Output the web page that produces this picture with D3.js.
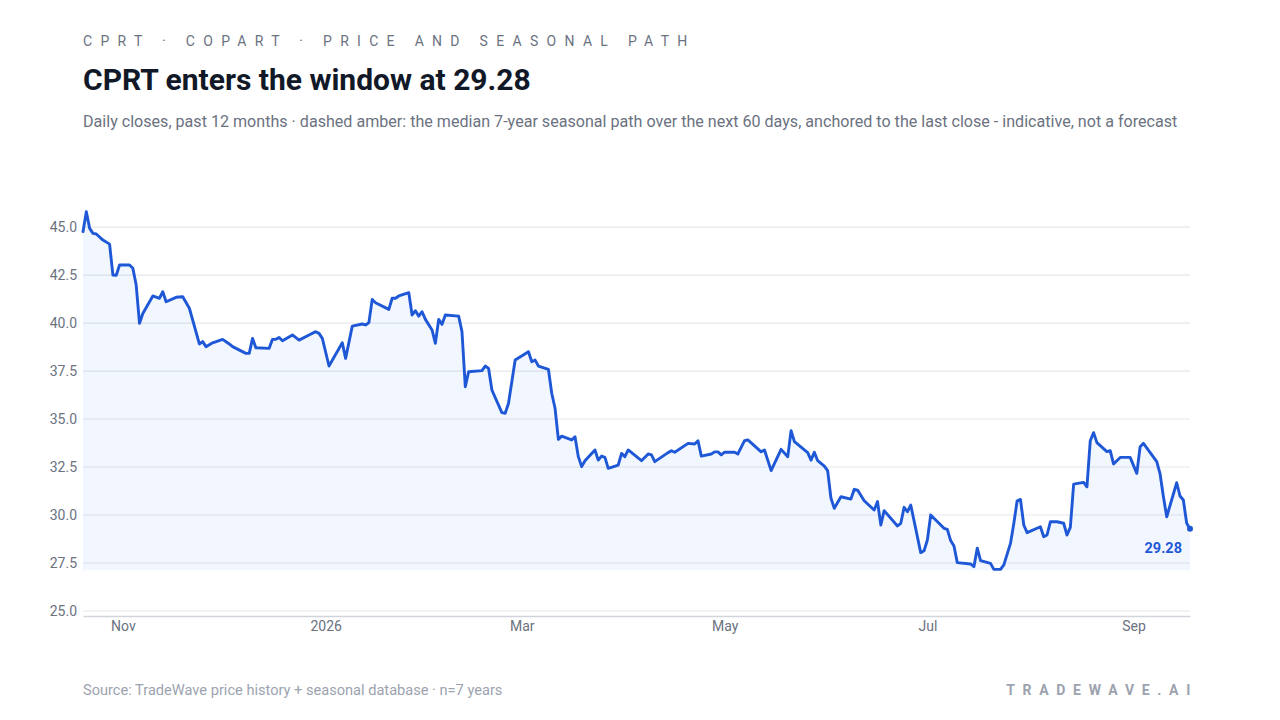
<!DOCTYPE html>
<html>
<head>
<meta charset="utf-8">
<script src="https://cdn.jsdelivr.net/npm/d3@7"></script>
<style>
  html, body { margin: 0; padding: 0; background: #fff; }
  svg { display: block; font-family: Roboto, "Noto Sans", sans-serif; }
</style>
</head>
<body>
<svg id="chart"></svg>
<script>
// daily closes (vertices of the price path)
const closeDates = [
  '2025-10-20','2025-10-21','2025-10-22','2025-10-23','2025-10-24','2025-10-26','2025-10-28','2025-10-29','2025-10-30','2025-10-31',
  '2025-11-03','2025-11-04','2025-11-05','2025-11-06','2025-11-07','2025-11-10','2025-11-12','2025-11-13','2025-11-14','2025-11-17',
  '2025-11-19','2025-11-21','2025-11-24','2025-11-25','2025-11-26','2025-11-28','2025-12-01','2025-12-03','2025-12-04','2025-12-08',
  '2025-12-09','2025-12-10','2025-12-11','2025-12-15','2025-12-16','2025-12-17','2025-12-18','2025-12-19','2025-12-22','2025-12-24',
  '2025-12-27','2025-12-29','2025-12-30','2025-12-31','2026-01-02','2026-01-06','2026-01-07','2026-01-09','2026-01-12','2026-01-13',
  '2026-01-14','2026-01-15','2026-01-16','2026-01-20','2026-01-21','2026-01-22','2026-01-23','2026-01-26','2026-01-27','2026-01-28',
  '2026-01-29','2026-01-30','2026-01-31','2026-02-02','2026-02-03','2026-02-04','2026-02-05','2026-02-06','2026-02-10','2026-02-11',
  '2026-02-12','2026-02-13','2026-02-17','2026-02-18','2026-02-19','2026-02-20','2026-02-23','2026-02-24','2026-02-25','2026-02-27',
  '2026-03-03','2026-03-04','2026-03-05','2026-03-06','2026-03-09','2026-03-10','2026-03-11','2026-03-12','2026-03-13','2026-03-16',
  '2026-03-17','2026-03-18','2026-03-19','2026-03-20','2026-03-23','2026-03-24','2026-03-25','2026-03-26','2026-03-27','2026-03-30',
  '2026-03-31','2026-04-01','2026-04-02','2026-04-06','2026-04-08','2026-04-09','2026-04-10','2026-04-14','2026-04-15','2026-04-16',
  '2026-04-20','2026-04-22','2026-04-23','2026-04-24','2026-04-27','2026-04-28','2026-04-29','2026-04-30','2026-05-01','2026-05-04',
  '2026-05-05','2026-05-07','2026-05-08','2026-05-12','2026-05-13','2026-05-15','2026-05-18','2026-05-20','2026-05-21','2026-05-22',
  '2026-05-26','2026-05-27','2026-05-28','2026-05-29','2026-05-31','2026-06-01','2026-06-02','2026-06-03','2026-06-05','2026-06-08',
  '2026-06-09','2026-06-10','2026-06-12','2026-06-15','2026-06-16','2026-06-17','2026-06-18','2026-06-22','2026-06-23','2026-06-24',
  '2026-06-25','2026-06-26','2026-06-29','2026-06-30','2026-07-01','2026-07-02','2026-07-06','2026-07-07','2026-07-08','2026-07-09',
  '2026-07-10','2026-07-14','2026-07-15','2026-07-16','2026-07-17','2026-07-20','2026-07-21','2026-07-23','2026-07-24','2026-07-26',
  '2026-07-27','2026-07-28','2026-07-29','2026-07-30','2026-07-31','2026-08-04','2026-08-05','2026-08-06','2026-08-07','2026-08-09',
  '2026-08-11','2026-08-12','2026-08-13','2026-08-14','2026-08-17','2026-08-18','2026-08-19','2026-08-20','2026-08-21','2026-08-24',
  '2026-08-25','2026-08-26','2026-08-28','2026-08-31','2026-09-02','2026-09-03','2026-09-04','2026-09-08','2026-09-09','2026-09-10',
  '2026-09-11','2026-09-14','2026-09-15','2026-09-16','2026-09-17','2026-09-18'
];

const closeValues = [
  44.76,45.80,44.93,44.67,44.64,44.32,44.11,42.50,42.48,43.02,
  43.02,42.85,41.98,39.98,40.50,41.41,41.29,41.63,41.11,41.34,
  41.37,40.77,38.91,39.03,38.77,38.97,39.15,38.91,38.77,38.42,
  38.42,39.20,38.71,38.68,39.15,39.15,39.25,39.08,39.38,39.11,
  39.38,39.55,39.46,39.20,37.76,38.97,38.16,39.84,39.95,39.90,
  40.02,41.23,41.06,40.71,41.29,41.29,41.41,41.58,40.42,40.64,
  40.36,40.59,40.19,39.64,38.94,40.19,39.93,40.42,40.36,39.55,
  36.68,37.46,37.52,37.76,37.64,36.51,35.33,35.30,35.82,38.07,
  38.50,37.98,38.07,37.76,37.59,36.34,35.56,33.94,34.11,33.91,
  34.08,33.04,32.52,32.83,33.39,32.86,33.07,33.00,32.43,32.60,
  33.21,33.04,33.39,32.83,33.18,33.13,32.78,33.25,33.35,33.27,
  33.73,33.70,33.87,33.07,33.18,33.29,33.29,33.13,33.27,33.27,
  33.18,33.87,33.91,33.29,33.39,32.31,33.42,33.04,34.39,33.82,
  33.25,32.86,33.27,32.83,32.55,32.31,30.87,30.35,30.95,30.83,
  31.34,31.30,30.74,30.26,30.70,29.48,30.23,29.43,29.57,30.40,
  30.17,30.52,28.04,28.14,28.70,30.00,29.31,29.25,28.67,28.39,
  27.52,27.45,27.31,28.27,27.62,27.48,27.17,27.17,27.40,28.52,
  29.56,30.74,30.81,29.48,29.08,29.39,28.87,28.96,29.65,29.65,
  29.57,28.96,29.36,31.61,31.70,31.47,33.87,34.29,33.77,33.30,
  33.35,32.66,33.00,33.00,32.17,33.56,33.73,32.78,32.14,30.95,
  29.91,31.68,30.99,30.78,29.57,29.28
];

const yTicks = [25, 27.5, 30, 32.5, 35, 37.5, 40, 42.5, 45];
const windowStart = '2025-10-20';
const windowEnd = '2026-09-18';

const W = 1280, H = 720;
const margin = { top: 204, right: 90, bottom: 104, left: 83 };

class PriceChart {
  constructor(elmId) {
    this.parse = d3.timeParse('%Y-%m-%d');
    this.data = closeDates.map((d, i) => ({ date: this.parse(d), close: closeValues[i] }));
    this.width = W - margin.left - margin.right;
    this.height = H - margin.top - margin.bottom;
    this.svg = d3.select(elmId).attr('width', W).attr('height', H);
    this.init();
  }

  init() {
    this.x = d3.scaleTime()
      .domain([this.parse(windowStart), this.parse(windowEnd)])
      .range([0, this.width]);
    this.y = d3.scaleLinear()
      .domain([24.74, 46.2])
      .range([this.height, 0]);

    this.g = this.svg.append('g')
      .attr('transform', `translate(${margin.left},${margin.top})`);

    this.renderHeader();
    this.renderGrid();
    this.renderArea();
    this.renderLine();
    this.renderAxis();
    this.renderLastLabel();
    this.renderFooter();
  }

  renderHeader() {
    this.svg.append('text')
      .attr('x', 83).attr('y', 46)
      .attr('fill', '#6b7280')
      .attr('font-size', 14)
      .attr('letter-spacing', '8.3px')
      .text('CPRT · COPART · PRICE AND SEASONAL PATH');

    this.svg.append('text')
      .attr('x', 83).attr('y', 90)
      .attr('fill', '#111827')
      .attr('font-size', 30)
      .attr('font-weight', 700)
      .text('CPRT enters the window at 29.28');

    this.svg.append('text')
      .attr('x', 83).attr('y', 127)
      .attr('fill', '#6b7280')
      .attr('font-size', 16.1)
      .text('Daily closes, past 12 months · dashed amber: the median 7-year seasonal path over the next 60 days, anchored to the last close - indicative, not a forecast');
  }

  renderGrid() {
    this.g.append('g')
      .attr('class', 'grid')
      .selectAll('line')
      .data(yTicks)
      .enter()
      .append('line')
      .attr('x1', 0)
      .attr('x2', this.width)
      .attr('y1', d => this.y(d))
      .attr('y2', d => this.y(d))
      .attr('stroke', '#e5e7eb')
      .attr('stroke-width', 1.2);
  }

  renderArea() {
    const base = d3.min(this.data, d => d.close);
    const area = d3.area()
      .x(d => this.x(d.date))
      .y0(this.y(base) + 1)
      .y1(d => this.y(d.close));

    this.g.append('path')
      .datum(this.data)
      .attr('fill', '#2563eb')
      .attr('fill-opacity', 0.06)
      .attr('d', area);
  }

  renderLine() {
    const line = d3.line()
      .x(d => this.x(d.date))
      .y(d => this.y(d.close));

    this.g.append('path')
      .datum(this.data)
      .attr('fill', 'none')
      .attr('stroke', '#1f58d6')
      .attr('stroke-width', 2.9)
      .attr('stroke-linejoin', 'round')
      .attr('stroke-linecap', 'round')
      .attr('d', line);
  }

  renderAxis() {
    const monthFmt = d3.timeFormat('%b');
    const yearFmt = d3.timeFormat('%Y');
    const xAxis = this.g.append('g')
      .attr('transform', `translate(0,${this.height})`)
      .call(d3.axisBottom(this.x)
        .ticks(d3.timeMonth.every(2))
        .tickFormat(d => d.getMonth() === 0 ? yearFmt(d) : monthFmt(d))
        .tickSize(0)
        .tickPadding(5));
    xAxis.select('.domain').attr('stroke', '#d1d5db').attr('stroke-width', 1.3);
    xAxis.selectAll('text')
      .attr('fill', '#6b7280')
      .attr('font-size', 14)
      .attr('font-family', 'Roboto, sans-serif');

    const yAxis = this.g.append('g')
      .call(d3.axisLeft(this.y)
        .tickValues(yTicks)
        .tickFormat(d3.format('.1f'))
        .tickSize(0)
        .tickPadding(6));
    yAxis.select('.domain').remove();
    yAxis.selectAll('text')
      .attr('fill', '#6b7280')
      .attr('font-size', 14)
      .attr('font-family', 'Roboto, sans-serif');
  }

  renderLastLabel() {
    const last = this.data[this.data.length - 1];
    this.g.append('circle')
      .attr('cx', this.x(last.date))
      .attr('cy', this.y(last.close))
      .attr('r', 3)
      .attr('fill', '#1f58d6');

    this.g.append('text')
      .attr('x', this.x(last.date) - 8)
      .attr('y', this.y(last.close) + 24)
      .attr('text-anchor', 'end')
      .attr('fill', '#1f58d6')
      .attr('font-size', 14.5)
      .attr('font-weight', 700)
      .text(d3.format('.2f')(last.close));
  }

  renderFooter() {
    this.svg.append('text')
      .attr('x', 83).attr('y', 695)
      .attr('fill', '#9ca3af')
      .attr('font-size', 14.6)
      .text('Source: TradeWave price history + seasonal database · n=7 years');

    this.svg.append('text')
      .attr('x', 1198).attr('y', 695)
      .attr('text-anchor', 'end')
      .attr('fill', '#9ca3af')
      .attr('font-size', 14)
      .attr('font-weight', 700)
      .attr('letter-spacing', '7.7px')
      .text('TRADEWAVE.AI');
  }
}

new PriceChart('#chart');
</script>
</body>
</html>
